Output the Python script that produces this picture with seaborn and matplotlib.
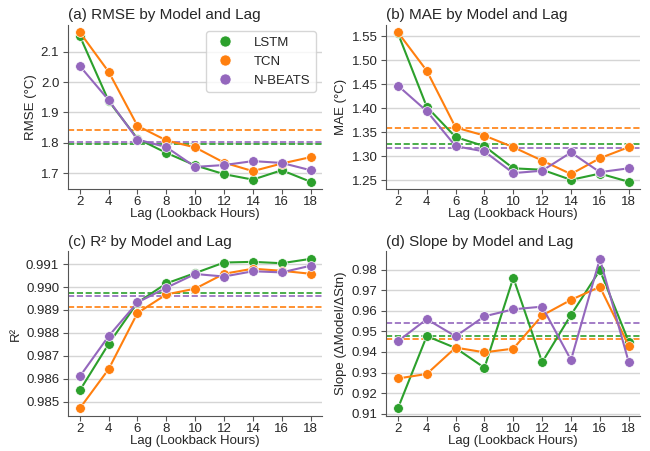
import numpy as np
import pandas as pd
import seaborn as sns
import matplotlib.pyplot as plt
from matplotlib.lines import Line2D
from matplotlib.ticker import MultipleLocator

# -----------------------------------
# DATA
# -----------------------------------

lags = [2, 4, 6, 8, 10, 12, 14, 16, 18]
models = ["LSTM", "TCN", "N-BEATS"]
colors = {"LSTM": "#2ca02c", "TCN": "#ff7f0e", "N-BEATS": "#9467bd"}

rmse_lstm = [2.152, 1.938, 1.814, 1.767, 1.726, 1.697, 1.679, 1.710, 1.672]
rmse_tcn = [2.164, 2.034, 1.856, 1.808, 1.785, 1.735, 1.707, 1.732, 1.753]
rmse_nbeats = [2.053, 1.941, 1.811, 1.786, 1.721, 1.727, 1.740, 1.734, 1.710]

mae_lstm = [1.556, 1.403, 1.340, 1.321, 1.275, 1.272, 1.251, 1.264, 1.247]
mae_tcn = [1.558, 1.478, 1.360, 1.343, 1.319, 1.291, 1.263, 1.296, 1.319]
mae_nbeats = [1.447, 1.394, 1.321, 1.310, 1.265, 1.270, 1.308, 1.267, 1.275]

r2_lstm = [0.98549, 0.98752, 0.98932, 0.99016, 0.99061, 0.99107, 0.99110, 0.99104, 0.99123]
r2_tcn = [0.98471, 0.98642, 0.98887, 0.98968, 0.98993, 0.99058, 0.99080, 0.99071, 0.99058]
r2_nbeats = [0.98610, 0.98786, 0.98933, 0.98997, 0.99057, 0.99046, 0.99069, 0.99064, 0.99093]

slope_lstm = [0.9126, 0.9477, 0.9419, 0.9323, 0.9760, 0.9350, 0.9580, 0.9797, 0.9450]
slope_tcn = [0.9271, 0.9293, 0.9421, 0.9398, 0.9416, 0.9577, 0.9653, 0.9716, 0.9431]
slope_nbeats = [0.9452, 0.9559, 0.9476, 0.9573, 0.9607, 0.9620, 0.9361, 0.9852, 0.9351]

# title, y label, y tick step, series
panels = [
    ("(a) RMSE by Model and Lag", "RMSE (°C)", 0.1, [rmse_lstm, rmse_tcn, rmse_nbeats]),
    ("(b) MAE by Model and Lag", "MAE (°C)", 0.05, [mae_lstm, mae_tcn, mae_nbeats]),
    ("(c) R² by Model and Lag", "R²", 0.001, [r2_lstm, r2_tcn, r2_nbeats]),
    ("(d) Slope by Model and Lag", "Slope (ΔModel/ΔStn)", 0.01, [slope_lstm, slope_tcn, slope_nbeats]),
]

# -----------------------------------
# STYLE
# -----------------------------------

sns.set_style("ticks")
plt.rcParams["font.family"] = ["Liberation Sans", "DejaVu Sans"]

fig, axes = plt.subplots(2, 2, figsize=(6.5, 4.51), dpi=100)
fig.subplots_adjust(left=0.105, right=0.985, top=0.945, bottom=0.078,
                    wspace=0.253, hspace=0.378)

for i, (ax, (title, ylabel, step, series)) in enumerate(zip(axes.flat, panels)):
    df = pd.DataFrame({
        "Lag": lags * len(models),
        "Model": np.repeat(models, len(lags)),
        "value": np.concatenate(series),
    })
    ax.yaxis.grid(True, color="#d5d5d5", linewidth=1.0)
    ax.set_axisbelow(True)

    sns.lineplot(data=df, x="Lag", y="value", hue="Model", hue_order=models,
                 palette=colors, marker="o", markersize=7,
                 markeredgecolor="white", markeredgewidth=0.5,
                 linewidth=1.5, legend=False, ax=ax)

    # mean of each model as dashed reference
    for m, vals in zip(models, series):
        ax.axhline(np.mean(vals), color=colors[m], linestyle="--",
                   linewidth=1.2, zorder=1.8)

    ax.set_xticks(lags)
    ax.yaxis.set_major_locator(MultipleLocator(step))
    ax.set_title(title, loc="left", fontsize=11, pad=4)
    ax.set_xlabel("Lag (Lookback Hours)", fontsize=9.5, labelpad=0)
    ax.set_ylabel(ylabel, fontsize=9.5, labelpad=3)
    ax.tick_params(labelsize=9.5, length=3.5, width=0.8, pad=3,
                   color="#555555")
    ax.tick_params(axis="x", pad=1.5)
    sns.despine(ax=ax)
    for s in ("left", "bottom"):
        ax.spines[s].set_color("#555555")

    if i == 0:
        handles = [Line2D([], [], linestyle="", marker="o", markersize=8,
                          color=colors[m], markeredgecolor="white",
                          markeredgewidth=0.5) for m in models]
        ax.legend(handles, models, loc="upper right", fontsize=9.5,
                  frameon=True, edgecolor="#cccccc", handletextpad=1.2)

plt.savefig("out.png", dpi=100)
